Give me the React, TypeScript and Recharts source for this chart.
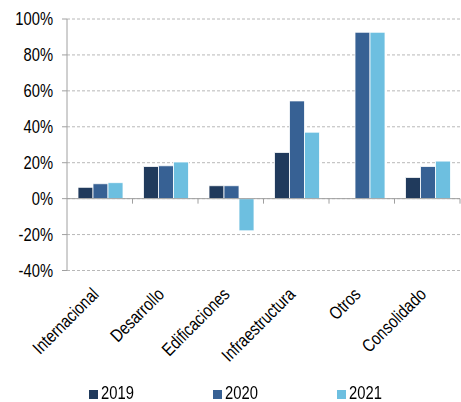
import React from 'react';
import {
  Bar,
  BarChart,
  CartesianGrid,
  Legend,
  ReferenceLine,
  XAxis,
  YAxis,
} from 'recharts';

const categories = ['Internacional', 'Desarrollo', 'Edificaciones', 'Infraestructura', 'Otros', 'Consolidado'];
const values2019 = [6.3, 17.9, 7.2, 25.7, null, 11.8];
const values2020 = [8.3, 18.3, 7.2, 54.4, 92.6, 17.9];
const values2021 = [8.9, 20.4, -17.9, 37.0, 92.6, 20.9];
const yTicks = [-40, -20, 0, 20, 40, 60, 80, 100];
const seriesNames = ['2019', '2020', '2021'];
const seriesColors = ['#203a5c', '#376194', '#6dbfe0'];

const chartData = categories.map((name, i) => ({
  name,
  y2019: values2019[i],
  y2020: values2020[i],
  y2021: values2021[i],
}));

const W = 461;
const H = 402;
const margin = { top: 19, right: 1, bottom: 0, left: 0 };
const yAxisWidth = 67;
const xAxisHeight = 111.5;
const legendHeight = 20;
const plotW = W - margin.left - margin.right - yAxisWidth;
const plotH = H - margin.top - margin.bottom - xAxisHeight - legendHeight;
const zeroY = margin.top + (plotH * 100) / 140;
const band = plotW / categories.length;
const font = '"Liberation Sans", Arial, sans-serif';
// the original uses a narrow Arial; squeeze Liberation Sans to fake it
const squeeze = 0.82;

const CategoryTick = (props: any) => {
  const { x, y, payload } = props;
  const right = x + band / 2;
  const tx = x;
  const ty = y + 17;
  return (
    <g>
      <line x1={right} y1={zeroY} x2={right} y2={zeroY + 5} stroke="#a0a0a0" />
      <text
        x={0}
        y={0}
        transform={`translate(${tx} ${ty}) rotate(-45) scale(${squeeze} 1)`}
        textAnchor="end"
        fontSize={18}
        fontFamily={font}
        fill="#000"
      >
        {payload.value}
      </text>
    </g>
  );
};

const ValueTick = (props: any) => {
  const { x, y, payload } = props;
  return (
    <text
      x={0}
      y={0}
      dy="0.355em"
      transform={`translate(${x} ${y}) scale(${squeeze} 1)`}
      textAnchor="end"
      fontSize={18}
      fontFamily={font}
      fill="#000"
    >
      {`${payload.value}%`}
    </text>
  );
};

const LegendContent = () => (
  <div style={{ display: 'flex', paddingLeft: 89, paddingTop: 1, fontFamily: font, fontSize: 18, lineHeight: '20px', color: '#000' }}>
    {seriesNames.map((s, i) => (
      <div key={s} style={{ width: 125.5, display: 'flex', alignItems: 'center' }}>
        <span style={{ width: 9, height: 9, background: seriesColors[i], marginRight: 3, marginTop: 3, display: 'inline-block' }} />
        <span style={{ display: 'inline-block', transform: `scaleX(${squeeze})`, transformOrigin: 'left center' }}>{s}</span>
      </div>
    ))}
  </div>
);

export default function App() {
  return (
    <div style={{ position: 'fixed', left: 0, top: 0, width: W, height: H, background: '#fff' }}>
      <BarChart width={W} height={H} data={chartData} margin={margin} barGap={0} barCategoryGap={11}>
        <CartesianGrid vertical={false} stroke="#b8b8b8" strokeDasharray="3 2" />
        <XAxis
          dataKey="name"
          axisLine={false}
          tickLine={false}
          height={xAxisHeight}
          interval={0}
          tick={<CategoryTick />}
        />
        <YAxis
          width={yAxisWidth}
          domain={[-40, 100]}
          ticks={yTicks}
          interval={0}
          axisLine={{ stroke: '#a0a0a0' }}
          tickLine={{ stroke: '#a0a0a0' }}
          tickSize={5}
          tickMargin={9}
          tick={<ValueTick />}
        />
        <ReferenceLine y={0} stroke="#a0a0a0" strokeWidth={1} />
        <Legend verticalAlign="bottom" height={legendHeight} content={<LegendContent />} wrapperStyle={{ left: 0, width: W }} />
        <Bar dataKey="y2019" name="2019" fill={seriesColors[0]} stroke="#ffffff" strokeWidth={0.8} isAnimationActive={false} />
        <Bar dataKey="y2020" name="2020" fill={seriesColors[1]} stroke="#ffffff" strokeWidth={0.8} isAnimationActive={false} />
        <Bar dataKey="y2021" name="2021" fill={seriesColors[2]} stroke="#ffffff" strokeWidth={0.8} isAnimationActive={false} />
      </BarChart>
    </div>
  );
}
